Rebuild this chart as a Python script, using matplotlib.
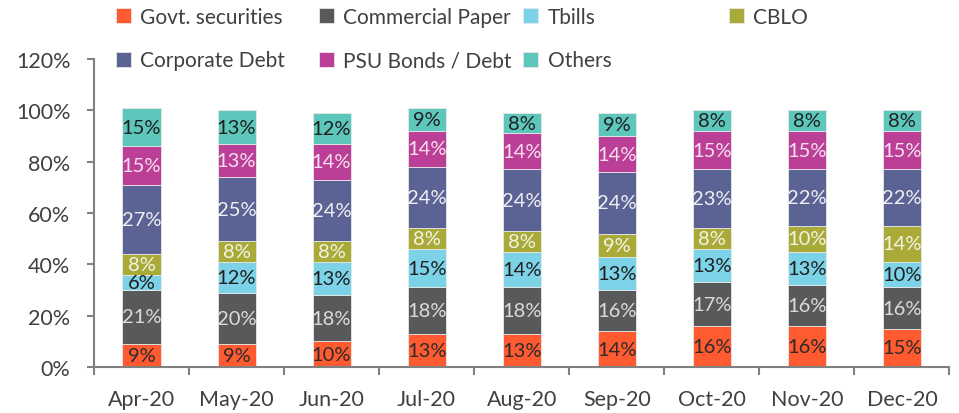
import numpy as np
import matplotlib.pyplot as plt
from matplotlib.ticker import MultipleLocator, FixedLocator

plt.rcParams['font.family'] = ['Lato', 'DejaVu Sans']

months = ['Apr-20', 'May-20', 'Jun-20', 'Jul-20', 'Aug-20', 'Sep-20', 'Oct-20', 'Nov-20', 'Dec-20']

govt = [9, 9, 10, 13, 13, 14, 16, 16, 15]
cp = [21, 20, 18, 18, 18, 16, 17, 16, 16]
tbills = [6, 12, 13, 15, 14, 13, 13, 13, 10]
cblo = [8, 8, 8, 8, 8, 9, 8, 10, 14]
corp = [27, 25, 24, 24, 24, 24, 23, 22, 22]
psu = [15, 13, 14, 14, 14, 14, 15, 15, 15]
others = [15, 13, 12, 9, 8, 9, 8, 8, 8]

series = [
    ('Govt. securities', govt, '#FF5A30', '#2b2b2b'),
    ('Commercial Paper', cp, '#58595B', '#dcdcdc'),
    ('Tbills', tbills, '#7CD2E6', '#1f1f1f'),
    ('CBLO', cblo, '#A9AA38', '#f4f4e6'),
    ('Corporate Debt', corp, '#5B6294', '#f0f0f5'),
    ('PSU Bonds / Debt', psu, '#BC3F97', '#f6e0ef'),
    ('Others', others, '#5EC7BC', '#1f1f1f'),
]

fig = plt.figure(figsize=(9.59, 4.14), dpi=100)
ax = fig.add_axes([0.098, 0.111, 0.892, 0.744])

x = np.arange(len(months))
bottom = np.zeros(len(months))
handles = []
for name, vals, col, tcol in series:
    vals = np.array(vals, dtype=float)
    bars = ax.bar(x, vals, 0.4, bottom=bottom, color=col, edgecolor='#e8e8e8',
                  linewidth=0.6, label=name)
    handles.append(bars)
    for xi, b, v in zip(x, bottom, vals):
        ax.text(xi, b + v / 2, f'{v:.0f}%', ha='center', va='center',
                fontsize=14.5, color=tcol)
    bottom += vals

ax.set_xlim(-0.5, len(months) - 0.5)
ax.set_ylim(0, 120)
ax.yaxis.set_major_locator(MultipleLocator(20))
ax.set_yticklabels([f'{int(v)}%' for v in ax.get_yticks()])
ax.set_xticks(x)
ax.set_xticklabels(months)
ax.xaxis.set_minor_locator(FixedLocator(np.arange(len(months) + 1) - 0.5))

for s in ['top', 'right']:
    ax.spines[s].set_visible(False)
for s in ['left', 'bottom']:
    ax.spines[s].set_color('#808080')
    ax.spines[s].set_linewidth(1.5)

ax.tick_params(axis='x', which='major', length=0, pad=16, labelsize=15.5, labelcolor='#404040')
ax.tick_params(axis='x', which='minor', length=6, width=1.5, color='#808080')
ax.tick_params(axis='y', length=5, width=1.5, color='#808080', pad=12,
               labelsize=15.5, labelcolor='#404040')

# legend laid out as an even grid: one small legend per column
columns = [[0, 4], [1, 5], [2, 6], [3]]
col_x = [0.112, 0.324, 0.537, 0.751]
for idx, cx in zip(columns, col_x):
    fig.legend([handles[i] for i in idx], [series[i][0] for i in idx],
               loc='upper left', bbox_to_anchor=(cx, 1.002),
               frameon=False, fontsize=15, labelcolor='#404040',
               handlelength=0.72, handleheight=0.72, handletextpad=0.45,
               labelspacing=1.15, borderaxespad=0)

fig.savefig('out.png', dpi=100)
